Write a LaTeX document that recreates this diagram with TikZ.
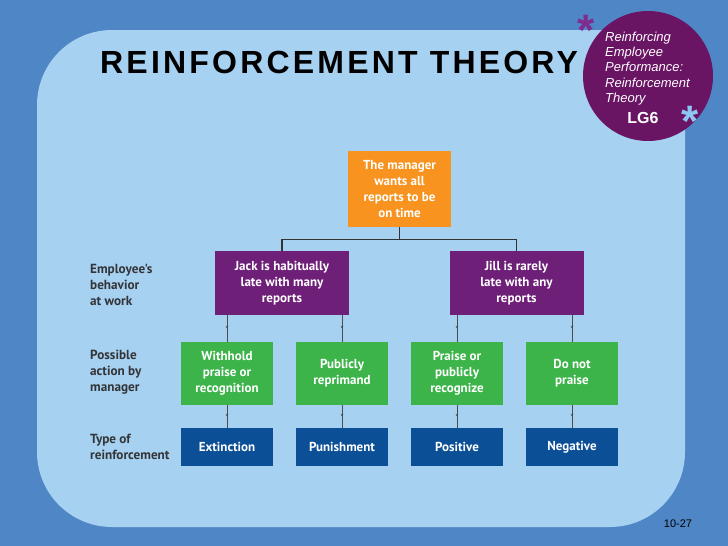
\documentclass[tikz,border=0pt]{standalone}
\usepackage{fontspec}
\setmainfont{Liberation Sans}
\newfontfamily\chartfont{PT Sans}
\usetikzlibrary{positioning, arrows.meta, decorations.markings}
\definecolor{slideblue}{HTML}{4F86C6}
\definecolor{panelblue}{HTML}{A6D1F1}
\definecolor{lgpurple}{HTML}{6A1464}
\definecolor{boxorange}{HTML}{F7931E}
\definecolor{boxpurple}{HTML}{6E1F78}
\definecolor{boxgreen}{HTML}{3CB44A}
\definecolor{boxblue}{HTML}{0B4F97}
\definecolor{labelgray}{HTML}{333538}
\definecolor{starpurple}{HTML}{7E2C8E}
\definecolor{starblue}{HTML}{8EC6F2}
\begin{document}
\begin{tikzpicture}[
        x=1pt, y=-1pt,
        box/.style={inner sep=0pt, text=white, align=center,
                    font=\chartfont\bfseries\fontsize{13}{16}\selectfont},
        bossbox/.style={box, fill=boxorange, minimum width=103pt, minimum height=76pt},
        behbox/.style={box, fill=boxpurple, minimum width=134pt, minimum height=64pt},
        actbox/.style={box, fill=boxgreen, minimum width=92pt, minimum height=63pt},
        kindbox/.style={box, fill=boxblue, minimum width=92pt, minimum height=38pt},
        rowlabel/.style={anchor=west, inner sep=0pt, align=left, text=labelgray,
                         font=\chartfont\bfseries\fontsize{13.2}{16}\selectfont},
        tree/.style={line width=1.3pt, draw=black!80},
        link/.style={line width=0.6pt, draw=gray!60!black, postaction={decorate},
                     decoration={markings, mark=at position 0.5 with
                       {\arrow{Stealth[length=2.5pt, width=2.5pt]}}}},
        star/.style={anchor=north, inner sep=0pt, font=\bfseries\fontsize{44}{44}\selectfont}
    ]
    \useasboundingbox (0,0) rectangle (728,546);
    % Slide background
    \fill[slideblue] (0,0) rectangle (728,546);
    \fill[panelblue, rounded corners=75pt] (37,30) rectangle (685,527);

    % Title and LG badge
    \node[anchor=base west, inner sep=0pt, font=\bfseries\fontsize{32}{32}\selectfont\addfontfeature{LetterSpace=10}]
        (title) at (100,73) {REINFORCEMENT THEORY};
    \node[circle, fill=lgpurple, minimum size=130pt, inner sep=0pt] (lgcircle) at (648,76) {};
    \node[anchor=north west, inner sep=0pt, align=left, text=white,
          font=\itshape\fontsize{13}{15.3}\selectfont] (lgtext) at (605,31.5)
        {Reinforcing\\Employee\\Performance:\\Reinforcement\\Theory};
    \node[text=white, font=\bfseries\fontsize{16}{16}\selectfont] (lg6) at (643,118) {LG6};
    \node[star, text=starpurple] (starA) at (586.5,15) {*};
    \node[star, text=starblue] (starB) at (690.5,106) {*};

    % Row 1: Goal
    \node[bossbox] (boss) at (399.5,189) {The manager\\wants all\\reports to be\\on time};

    % Row 2: Behavior
    \node[behbox] (jack) at (282,283) {Jack is habitually\\late with many\\reports};
    \node[behbox] (jill) at (516.5,283) {Jill is rarely\\late with any\\reports};

    % Row 3: Actions
    \node[actbox] (withhold)  at (227,373.5) {Withhold\\praise or\\recognition};
    \node[actbox] (reprimand) at (342,373.5) {Publicly\\reprimand};
    \node[actbox] (praise)    at (457,373.5) {Praise or\\publicly\\recognize};
    \node[actbox] (nopraise)  at (572,373.5) {Do not\\praise};

    % Row 4: Reinforcement
    \node[kindbox] (extinction) at (227,447) {Extinction};
    \node[kindbox] (punishment) at (342,447) {Punishment};
    \node[kindbox] (positive)   at (457,447) {Positive};
    \node[kindbox] (negative)   at (572,447) {Negative};

    % Row labels
    \node[rowlabel] (lblbehavior) at (90,285) {Employee's\\behavior\\at work};
    \node[rowlabel] (lblaction)   at (90,372) {Possible\\action by\\manager};
    \node[rowlabel] (lbltype)     at (90,447) {Type of\\reinforcement};

    % Tree: goal to behaviors
    \draw[tree] (boss.south) -- ++(0,12.5) -| (jack.north);
    \draw[tree] (boss.south) -- ++(0,12.5) -| (jill.north);

    % Behaviors to actions
    \foreach \b/\a in {jack/withhold, jack/reprimand, jill/praise, jill/nopraise}
        \draw[link] (\a.north |- \b.south) -- (\a.north);

    % Actions to reinforcement
    \foreach \a/\k in {withhold/extinction, reprimand/punishment, praise/positive, nopraise/negative}
        \draw[link] (\a) -- (\k);

    \node[font=\fontsize{11}{11}\selectfont] (pageno) at (678,524) {10-27};
\end{tikzpicture}
\end{document}
